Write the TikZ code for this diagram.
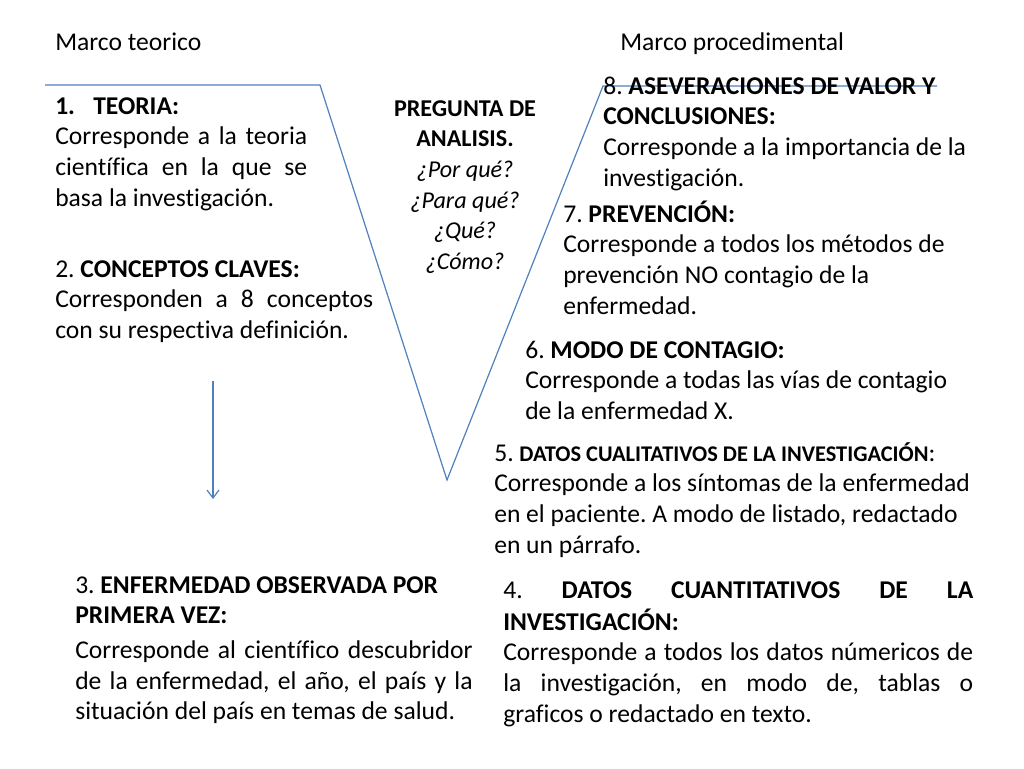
\documentclass[tikz,border=0pt]{standalone}
\usepackage{fontspec}
\setmainfont{Carlito}[Ligatures=NoCommon]
\usetikzlibrary{arrows.meta}
\definecolor{vline}{RGB}{79,129,189}
\newcommand{\jl}[2]{\makebox[#1][s]{#2}}
\frenchspacing
\begin{document}
\begin{tikzpicture}[x=0.75pt,y=-0.75pt,
  txt/.style={anchor=north west,inner sep=0pt,align=left,font=\fontsize{19.2}{23}\selectfont},
  one/.style={anchor=base west,inner sep=0pt,font=\fontsize{19.2}{23}\selectfont},
  vl/.style={draw=vline,line width=0.9pt}]
\useasboundingbox[fill=white] (0,0) rectangle (1024,768);

% V shape
\coordinate (tl) at (45,85);
\coordinate (tr) at (320,85);
\coordinate (vb) at (447,480);
\coordinate (ra) at (603,86);
\coordinate (re) at (937,86);
\draw[vl] (tl) -- (tr) -- (vb) -- (ra) -- (re);

% arrow
\coordinate (as) at (213,381);
\coordinate (ae) at (213,499);
\draw[vl,-{Straight Barb[length=6pt,width=9pt]}] (as) -- (ae);

% headings
\node[one] (mt) at (55,50) {Marco teorico};
\node[one] (mp) at (620,50) {Marco procedimental};

% block 1
\node[txt] (b1) at (55,92.5) {\strut\makebox[28.5pt][l]{\textbf{1.}}\textbf{TEORIA:}\\
\jl{189pt}{Corresponde a la teoria}\\
\jl{189pt}{científica en la que se}\\
basa la investigación.};

% block 2
\node[txt] (b2) at (55,255.5) {\strut 2. \textbf{CONCEPTOS CLAVES:}\\
\jl{238.5pt}{Corresponden a 8 conceptos}\\
con su respectiva definición.};

% pregunta
\node[anchor=north,inner sep=0pt,align=center,font=\fontsize{18.1}{23}\selectfont] (pq) at (465,94.5)
{\strut\textbf{PREGUNTA DE}\\ \textbf{ANALISIS.}\\ \textit{¿Por qué?}\\ \textit{¿Para qué?}\\ \textit{¿Qué?}\\ \textit{¿Cómo?}};

% block 8
\node[txt] (b8) at (603,72.5) {\strut 8. \textbf{ASEVERACIONES DE VALOR Y}\\
\textbf{CONCLUSIONES:}\\
Corresponde a la importancia de la\\
investigación.};

% block 7
\node[txt] (b7) at (563,200.5) {\strut 7. \textbf{PREVENCIÓN:}\\
Corresponde a todos los métodos de\\
prevención NO contagio de la\\
enfermedad.};

% block 6
\node[txt] (b6) at (525,336.5) {\strut 6. \textbf{MODO DE CONTAGIO:}\\
Corresponde a todas las vías de contagio\\
de la enfermedad X.};

% block 5
\node[txt] (b5) at (494,439.5) {\strut 5. {\fontsize{16.8}{23}\selectfont\textbf{DATOS CUALITATIVOS DE LA INVESTIGACIÓN}}:\\
Corresponde a los síntomas de la enfermedad\\
en el paciente. A modo de listado, redactado\\
en un párrafo.};

% block 4
\node[txt] (b4) at (503,576.5) {\strut\jl{352.5pt}{4. \textbf{DATOS CUANTITATIVOS DE LA}}\\
\textbf{INVESTIGACIÓN:}\\
\jl{352.5pt}{Corresponde a todos los datos númericos de}\\
\jl{352.5pt}{la investigación, en modo de, tablas o}\\
graficos o redactado en texto.};

% block 3
\node[txt] (b3) at (75,571.5) {\strut 3. \textbf{ENFERMEDAD OBSERVADA POR}\\
\textbf{PRIMERA VEZ:}\\[3pt]
\jl{298pt}{Corresponde al científico descubridor}\\
\jl{298pt}{de la enfermedad, el año, el país y la}\\
situación del país en temas de salud.};
\end{tikzpicture}
\end{document}
